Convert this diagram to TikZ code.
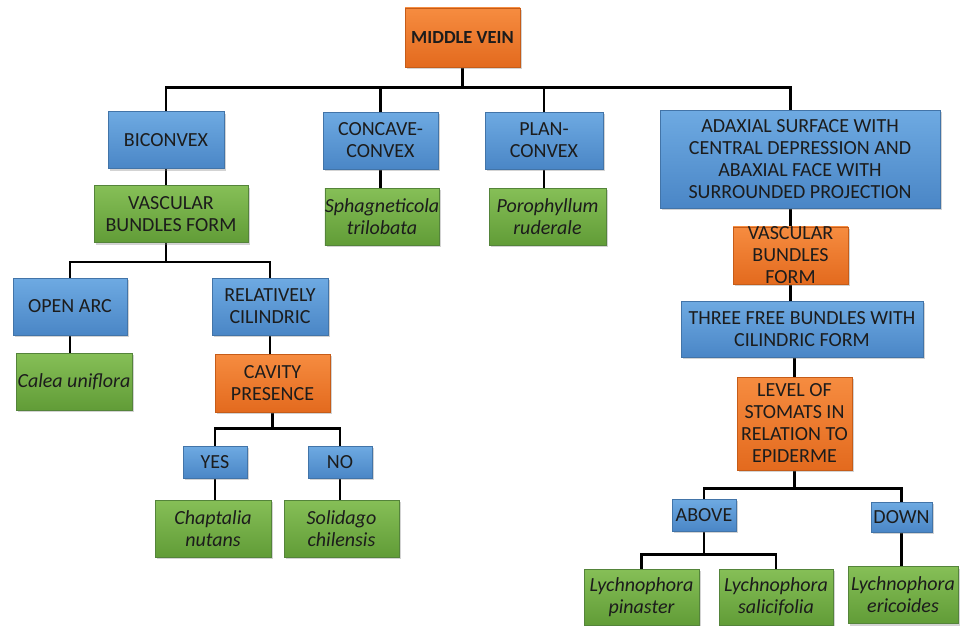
\documentclass[tikz,border=0pt]{standalone}
\usepackage{fontspec}
\setmainfont{Carlito}
\usepackage{xcolor}
\usetikzlibrary{positioning,shadows,backgrounds}

\definecolor{bluetop}{HTML}{6EAAE2}
\definecolor{bluebot}{HTML}{4A86C6}
\definecolor{blueedge}{HTML}{4274A8}
\definecolor{orangetop}{HTML}{F68C40}
\definecolor{orangebot}{HTML}{E36A1E}
\definecolor{orangeedge}{HTML}{C65C18}
\definecolor{greentop}{HTML}{86BF57}
\definecolor{greenbot}{HTML}{619C37}
\definecolor{greenedge}{HTML}{54843A}
\definecolor{inktext}{HTML}{1C1C1C}

\begin{document}
\begin{tikzpicture}[
  x=1pt, y=-1pt,
  box/.style={rectangle, draw, line width=0.6pt, align=center, inner sep=0pt,
    text=inktext, font=\fontsize{20}{22}\selectfont,
    drop shadow={shadow xshift=2pt, shadow yshift=-2pt, opacity=0.35}},
  bluebox/.style={box, draw=blueedge, top color=bluetop, bottom color=bluebot},
  orangebox/.style={box, draw=orangeedge, top color=orangetop, bottom color=orangebot},
  greenbox/.style={box, draw=greenedge, top color=greentop, bottom color=greenbot, font=\fontsize{20}{22}\selectfont\itshape},
  link/.style={draw=black, line width=2.6pt, line cap=rect}
]
  \useasboundingbox (0,0) rectangle (961,626);

  % Root
  \node[orangebox, minimum width=115, minimum height=59, font=\fontsize{18.5}{20}\selectfont\bfseries] (vein) at (462.5,37.5) {MIDDLE VEIN};

  % First level shapes
  \node[bluebox, minimum width=116, minimum height=57] (bicon) at (166,140) {BICONVEX};
  \node[bluebox, minimum width=115, minimum height=57] (concave) at (380.5,140.5) {CONCAVE-\\CONVEX};
  \node[bluebox, minimum width=118, minimum height=57] (plan) at (544,140.5) {PLAN-\\CONVEX};
  \node[bluebox, minimum width=280, minimum height=98] (adax) at (800,159) {ADAXIAL SURFACE WITH\\CENTRAL DEPRESSION AND\\ABAXIAL FACE WITH\\SURROUNDED PROJECTION};

  \node[greenbox, minimum width=154, minimum height=57, font=\fontsize{20}{22}\selectfont] (vasc1) at (171,214) {VASCULAR\\BUNDLES FORM};
  \node[greenbox, minimum width=114, minimum height=57] (sphag) at (382,216.5) {Sphagneticola\\trilobata};
  \node[greenbox, minimum width=117, minimum height=57] (poro) at (547.5,216.5) {Porophyllum\\ruderale};

  % Left branch
  \node[bluebox, minimum width=114, minimum height=57] (openarc) at (70,306.5) {OPEN ARC};
  \node[bluebox, minimum width=116, minimum height=57] (relcil) at (270,306.5) {RELATIVELY\\CILINDRIC};
  \node[greenbox, minimum width=116, minimum height=57] (calea) at (74,381.5) {Calea uniflora};
  \node[orangebox, minimum width=115, minimum height=58] (cavity) at (272.5,383) {CAVITY\\PRESENCE};
  \node[bluebox, minimum width=64, minimum height=32] (yes) at (215,462) {YES};
  \node[bluebox, minimum width=64, minimum height=32] (no) at (340,462) {NO};
  \node[greenbox, minimum width=116, minimum height=57] (chapt) at (213,528.5) {Chaptalia\\nutans};
  \node[greenbox, minimum width=115, minimum height=57] (solid) at (341.5,528.5) {Solidago\\chilensis};

  % Right branch
  \node[orangebox, minimum width=115, minimum height=57] (vasc2) at (790.5,255.5) {VASCULAR\\BUNDLES\\FORM};
  \node[bluebox, minimum width=242, minimum height=56] (three) at (802,329) {THREE FREE BUNDLES WITH\\CILINDRIC FORM};
  \node[orangebox, minimum width=115, minimum height=93] (level) at (794.5,423.5) {LEVEL OF\\STOMATS IN\\RELATION TO\\EPIDERME};
  \node[bluebox, minimum width=64, minimum height=32] (above) at (704,515) {ABOVE};
  \node[bluebox, minimum width=61, minimum height=30] (down) at (901.5,517) {DOWN};
  \node[greenbox, minimum width=115, minimum height=56] (pinas) at (641.5,597) {Lychnophora\\pinaster};
  \node[greenbox, minimum width=114, minimum height=56] (salic) at (776,597) {Lychnophora\\salicifolia};
  \node[greenbox, minimum width=110, minimum height=57] (erico) at (903,595) {Lychnophora\\ericoides};

  % Connectors, kept behind the boxes
  \begin{scope}[on background layer]
  \draw[link] (vein.south) -- ++(0,20) coordinate (j1);
  \draw[link] (bicon.north) |- (j1) -| (adax.north -| vasc2);
  \draw[link] (concave.north) -- (concave.north |- j1);
  \draw[link] (plan.north) -- (plan.north |- j1);

  \draw[link] (bicon) -- (bicon |- vasc1.north);
  \draw[link] (concave) -- (concave |- sphag.north);
  \draw[link] (plan) -- (plan |- poro.north);
  \draw[link] (adax.south -| vasc2) -- (vasc2.north);
  \draw[link] (vasc2.south) -- (vasc2.south |- three.north);
  \draw[link] (three.south -| level) -- (level.north);

  \draw[link] (vasc1.south -| bicon) -- ++(0,19) coordinate (j2);
  \draw[link] (openarc.north) |- (j2) -| (relcil.north);
  \draw[link] (openarc.south) -- (openarc.south |- calea.north);
  \draw[link] (relcil.south) -- (relcil.south |- cavity.north);

  \draw[link] (cavity.south) -- ++(0,16) coordinate (j3);
  \draw[link] (yes.north) |- (j3) -| (no.north);
  \draw[link] (yes.south) -- (yes.south |- chapt.north);
  \draw[link] (no.south) -- (no.south |- solid.north);

  \draw[link] (level.south) -- ++(0,18) coordinate (j4);
  \draw[link] (above.north) |- (j4) -| (down.north);
  \draw[link] (above.south) -- ++(0,23) coordinate (j5);
  \draw[link] (pinas.north) |- (j5) -| (salic.north);
  \draw[link] (down.south) -- (down.south |- erico.north);
  \end{scope}
\end{tikzpicture}
\end{document}
